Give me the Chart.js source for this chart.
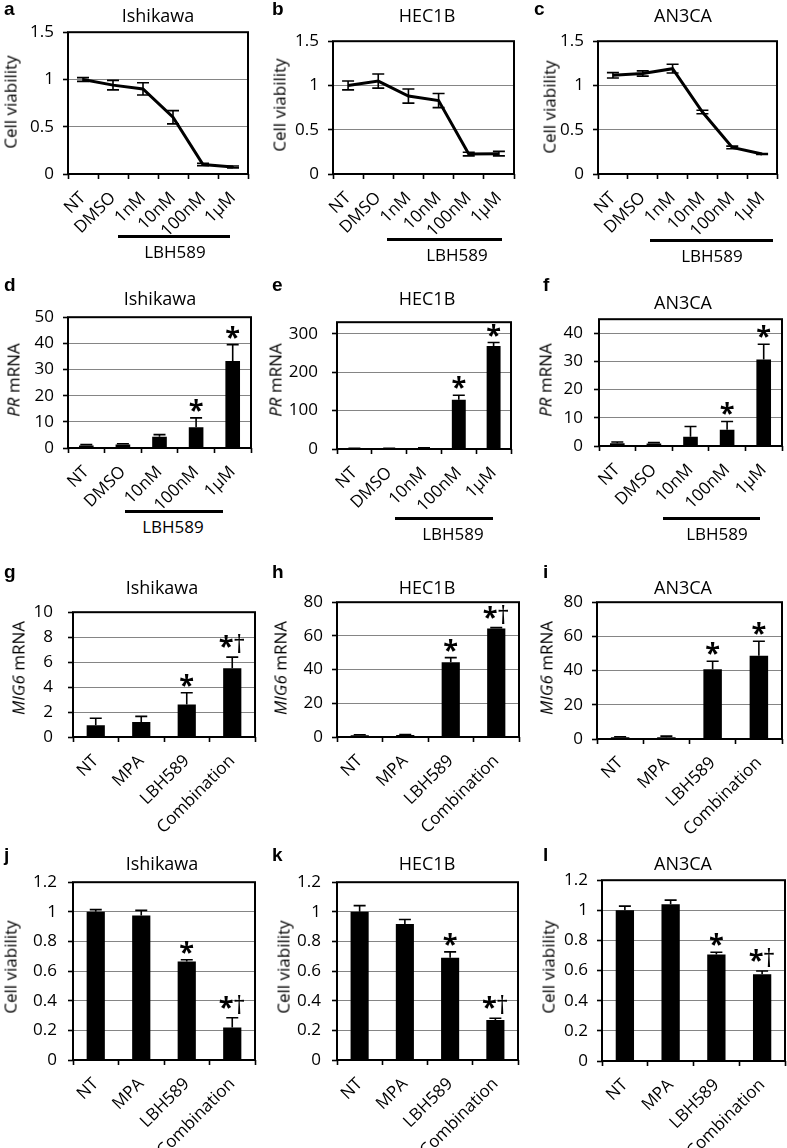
<!DOCTYPE html>
<html>
<head>
<meta charset="utf-8">
<script src="https://cdn.jsdelivr.net/npm/chart.js@4.4.0/dist/chart.umd.min.js"></script>
<style>
  body { margin: 0; background: #fff; width: 787px; height: 1148px; position: relative; overflow: hidden; font-family: "Open Sans", sans-serif; color: #000; }
  canvas { position: absolute; }
  .ttl { position: absolute; transform: translate(-50%, -50%); white-space: nowrap; font-size: 18px; }
  .let { position: absolute; transform: translate(0, -50%); font: bold 19px "Liberation Sans", Arial, sans-serif; }
  .yt { position: absolute; transform: translate(-50%, -50%) rotate(-90deg); white-space: nowrap; font-size: 17px; }
  .grp { position: absolute; transform: translate(-50%, -50%); white-space: nowrap; font-size: 17px; }
  .rule { position: absolute; height: 3px; background: #000; }
</style>
</head>
<body>
<script>
// --- a-c : cell viability, LBH589 dose ---
const doseLabels = ['NT', 'DMSO', '1nM', '10nM', '100nM', '1µM'];
const viabTicks = [0, 0.5, 1, 1.5];
const ishiViab = [1.00, 0.94, 0.90, 0.60, 0.10, 0.075];
const ishiViabErr = [0.02, 0.05, 0.065, 0.07, 0.012, 0.01];
const hecViab = [1.00, 1.05, 0.88, 0.83, 0.225, 0.23];
const hecViabErr = [0.05, 0.08, 0.08, 0.08, 0.02, 0.025];
const an3Viab = [1.115, 1.135, 1.19, 0.70, 0.30, 0.225];
const an3ViabErr = [0.03, 0.03, 0.05, 0.02, 0.015, 0.005];

// --- d-f : PR mRNA ---
const prLabels = ['NT', 'DMSO', '10nM', '100nM', '1µM'];
const prMarks = ['', '', '', '*', '*'];
const ishiPRTicks = [0, 10, 20, 30, 40, 50];
const ishiPR = [1.0, 1.3, 4.3, 7.9, 33.3];
const ishiPRErr = [0.3, 0.3, 0.8, 3.6, 6.2];
const hecPRTicks = [0, 100, 200, 300];
const hecPR = [1, 1, 2, 128, 268];
const hecPRErr = [0.5, 0.5, 0.8, 12, 9];
const an3PRTicks = [0, 10, 20, 30, 40];
const an3PR = [1.0, 0.9, 3.3, 5.8, 30.7];
const an3PRErr = [0.4, 0.3, 3.6, 2.9, 5.4];

// --- g-i : MIG6 mRNA ---
const combLabels = ['NT', 'MPA', 'LBH589', 'Combination'];
const ishiMIGTicks = [0, 2, 4, 6, 8, 10];
const ishiMIG = [0.95, 1.2, 2.6, 5.5];
const ishiMIGErr = [0.55, 0.45, 0.95, 0.9];
const ishiMIGMarks = ['', '', '*', '*†'];
const mig80Ticks = [0, 20, 40, 60, 80];
const hecMIG = [1.0, 1.2, 44.4, 64.4];
const hecMIGErr = [0.3, 0.3, 2.7, 0.5];
const hecMIGMarks = ['', '', '*', '*†'];
const an3MIG = [1.0, 1.0, 40.8, 48.7];
const an3MIGErr = [0.3, 0.7, 4.7, 8.5];
const an3MIGMarks = ['', '', '*', '*'];

// --- j-l : cell viability, combination ---
const combTicks = [0, 0.2, 0.4, 0.6, 0.8, 1, 1.2];
const combMarks = ['', '', '*', '*†'];
const ishiComb = [1.0, 0.975, 0.665, 0.22];
const ishiCombErr = [0.015, 0.035, 0.012, 0.065];
const hecComb = [1.0, 0.918, 0.69, 0.27];
const hecCombErr = [0.042, 0.03, 0.04, 0.012];
const an3Comb = [1.0, 1.04, 0.707, 0.575];
const an3CombErr = [0.028, 0.028, 0.015, 0.022];

// layout: plot rect [left, top, right, bottom] in page pixels, plus decorations
const VIAB = 'Cell viability';
const PR_T = '<i>PR</i> mRNA';
const MIG_T = '<i>MIG6</i> mRNA';
const panels = [
  { id: 'a', kind: 'line', labels: doseLabels, values: ishiViab, errs: ishiViabErr, ticks: viabTicks, max: 1.5,
    rect: [68, 27, 248, 174], xh: 62, pad: 14, title: 'Ishikawa', titleAt: [158, 15], letAt: [4, 9], yTitle: VIAB, yAt: [10, 102], lbh: [118, 230, 236, 175, 251] },
  { id: 'b', kind: 'line', labels: doseLabels, values: hecViab, errs: hecViabErr, ticks: viabTicks, max: 1.5,
    rect: [333, 36, 514, 174], xh: 62, pad: 14, title: 'HEC1B', titleAt: [427, 15], letAt: [272, 9], yTitle: VIAB, yAt: [279, 105], lbh: [387, 502, 239, 457, 254] },
  { id: 'c', kind: 'line', labels: doseLabels, values: an3Viab, errs: an3ViabErr, ticks: viabTicks, max: 1.5,
    rect: [598, 36, 777, 174], xh: 62, pad: 14, title: 'AN3CA', titleAt: [683, 15], letAt: [534, 9], yTitle: VIAB, yAt: [549, 107], lbh: [650, 773, 240, 712, 255] },
  { id: 'd', kind: 'bar', labels: prLabels, values: ishiPR, errs: ishiPRErr, marks: prMarks, ticks: ishiPRTicks, max: 50,
    rect: [68, 312, 251, 448], xh: 62, pad: 14, title: 'Ishikawa', titleAt: [160, 298], letAt: [4, 285], yTitle: PR_T, yAt: [13, 380], lbh: [125, 223, 511, 173, 526] },
  { id: 'e', kind: 'bar', labels: prLabels, values: hecPR, errs: hecPRErr, marks: prMarks, ticks: hecPRTicks, max: 330,
    rect: [337, 312, 511, 449], xh: 62, pad: 19, title: 'HEC1B', titleAt: [427, 298], letAt: [272, 285], yTitle: PR_T, yAt: [275, 380], lbh: [395, 493, 518, 453, 533] },
  { id: 'f', kind: 'bar', labels: prLabels, values: an3PR, errs: an3PRErr, marks: prMarks, ticks: an3PRTicks, max: 45,
    rect: [599, 312, 782, 446], xh: 62, pad: 16, title: 'AN3CA', titleAt: [683, 302], letAt: [543, 285], yTitle: PR_T, yAt: [545, 380], lbh: [663, 760, 518, 717, 533] },
  { id: 'g', kind: 'bar', labels: combLabels, values: ishiMIG, errs: ishiMIGErr, marks: ishiMIGMarks, ticks: ishiMIGTicks, max: 10,
    rect: [73, 601, 255, 737], xh: 100, pad: 20, title: 'Ishikawa', titleAt: [162, 587], letAt: [4, 572], yTitle: MIG_T, yAt: [18, 668] },
  { id: 'h', kind: 'bar', labels: combLabels, values: hecMIG, errs: hecMIGErr, marks: hecMIGMarks, ticks: mig80Ticks, max: 80,
    rect: [337, 597, 519, 737], xh: 100, pad: 14, title: 'HEC1B', titleAt: [427, 587], letAt: [272, 572], yTitle: MIG_T, yAt: [280, 668] },
  { id: 'i', kind: 'bar', labels: combLabels, values: an3MIG, errs: an3MIGErr, marks: an3MIGMarks, ticks: mig80Ticks, max: 80,
    rect: [597, 597, 782, 739], xh: 100, pad: 14, title: 'AN3CA', titleAt: [683, 587], letAt: [543, 572], yTitle: MIG_T, yAt: [546, 668] },
  { id: 'j', kind: 'bar', labels: combLabels, values: ishiComb, errs: ishiCombErr, marks: combMarks, ticks: combTicks, max: 1.2,
    rect: [73, 875, 255, 1060], xh: 100, pad: 16, title: 'Ishikawa', titleAt: [162, 863], letAt: [4, 855], yTitle: VIAB, yAt: [10, 967] },
  { id: 'k', kind: 'bar', labels: combLabels, values: hecComb, errs: hecCombErr, marks: combMarks, ticks: combTicks, max: 1.2,
    rect: [337, 875, 518, 1060], xh: 100, pad: 16, title: 'HEC1B', titleAt: [427, 863], letAt: [272, 855], yTitle: VIAB, yAt: [283, 967] },
  { id: 'l', kind: 'bar', labels: combLabels, values: an3Comb, errs: an3CombErr, marks: combMarks, ticks: combTicks, max: 1.2,
    rect: [602, 875, 785, 1061], xh: 100, pad: 14, title: 'AN3CA', titleAt: [683, 863], letAt: [543, 855], yTitle: VIAB, yAt: [548, 967] }
];

const YW = 80, PT = 14, PR = 16;
const FONT = '"Open Sans", sans-serif';
Chart.defaults.font.family = FONT;
Chart.defaults.color = '#000';

function place(cls, html, x, y) {
  const d = document.createElement('div');
  d.className = cls;
  d.innerHTML = html;
  d.style.left = x + 'px';
  d.style.top = y + 'px';
  document.body.appendChild(d);
  return d;
}

// glyph sized by its ink height, bottom of ink at `bottom`
function glyph(ctx, ch, cx, bottom, inkH, weight) {
  ctx.font = weight + ' 100px ' + FONT;
  let m = ctx.measureText(ch);
  const size = 100 * inkH / (m.actualBoundingBoxAscent + m.actualBoundingBoxDescent);
  ctx.font = weight + ' ' + size.toFixed(1) + 'px ' + FONT;
  m = ctx.measureText(ch);
  ctx.textAlign = 'center';
  ctx.textBaseline = 'alphabetic';
  ctx.fillText(ch, cx, bottom - m.actualBoundingBoxDescent);
}

function drawMark(ctx, mark, cx, errTop) {
  if (!mark) return;
  const dagger = mark.includes('†');
  const starBottom = errTop - (dagger ? 9 : 6);
  glyph(ctx, '*', dagger ? cx - 6 : cx, starBottom, 13, 'bold');
  if (dagger) glyph(ctx, '†', cx + 7, starBottom - 14 + 19, 19, 'normal');
}

function makeDecor(p) {
  return {
    id: 'decor' + p.id,
    afterDatasetsDraw(chart) {
      const { ctx, scales: { x, y } } = chart;
      ctx.save();
      ctx.strokeStyle = '#000';
      ctx.fillStyle = '#000';
      ctx.lineWidth = 1.6;
      const cap = 6;
      p.values.forEach((v, i) => {
        const e = p.errs[i];
        const cx = x.getPixelForValue(i);
        const top = y.getPixelForValue(v + e);
        const bot = p.kind === 'line' ? y.getPixelForValue(v - e) : y.getPixelForValue(v);
        ctx.beginPath();
        ctx.moveTo(cx, top); ctx.lineTo(cx, bot);
        ctx.moveTo(cx - cap, top); ctx.lineTo(cx + cap, top);
        if (p.kind === 'line') { ctx.moveTo(cx - cap, bot); ctx.lineTo(cx + cap, bot); }
        ctx.stroke();
        if (p.marks) drawMark(ctx, p.marks[i], cx, top);
      });
      ctx.restore();
    },
    afterDraw(chart) {
      const { ctx, chartArea: a } = chart;
      ctx.save();
      ctx.strokeStyle = '#000';
      ctx.lineWidth = 2;
      ctx.strokeRect(a.left, a.top, a.right - a.left, a.bottom - a.top);
      ctx.restore();
    }
  };
}

panels.forEach(p => {
  const [L, T, R, B] = p.rect;
  const cv = document.createElement('canvas');
  cv.width = YW + (R - L) + PR;
  cv.height = PT + (B - T) + p.xh;
  cv.style.left = (L - YW) + 'px';
  cv.style.top = (T - PT) + 'px';
  document.body.appendChild(cv);

  new Chart(cv, {
    type: p.kind,
    data: {
      labels: p.labels,
      datasets: [{
        data: p.values,
        backgroundColor: '#000',
        borderColor: '#000',
        borderWidth: p.kind === 'line' ? 3 : 0,
        pointRadius: 0,
        tension: 0,
        fill: false,
        barPercentage: 0.4,
        categoryPercentage: 1
      }]
    },
    options: {
      responsive: false,
      animation: false,
      devicePixelRatio: 1,
      layout: { padding: { top: PT, right: PR, left: 0, bottom: 0 } },
      plugins: { legend: { display: false }, tooltip: { enabled: false } },
      scales: {
        x: {
          offset: true,
          grid: { offset: true, drawOnChartArea: false, drawTicks: true, tickLength: 5, color: '#000', tickWidth: 1.6 },
          border: { display: false },
          ticks: { autoSkip: false, minRotation: 45, maxRotation: 45, padding: 9, font: { size: 17 } },
          afterFit: s => { s.height = p.xh; }
        },
        y: {
          min: 0,
          max: p.max,
          afterBuildTicks: s => { s.ticks = p.ticks.map(v => ({ value: v })); },
          grid: { color: '#858585', lineWidth: 1, tickLength: 5, tickColor: '#000', tickWidth: 1.6 },
          border: { display: false },
          ticks: { padding: p.pad - 5, font: { size: 17 }, callback: v => String(v) },
          afterFit: s => { s.width = YW; }
        }
      }
    },
    plugins: [makeDecor(p)]
  });

  // --- texts around the plot ---
  place('ttl', p.title, p.titleAt[0], p.titleAt[1]);
  place('let', p.id, p.letAt[0], p.letAt[1]);
  place('yt', p.yTitle, p.yAt[0], p.yAt[1]);
  if (p.lbh) {
    const [x1, x2, ly, tx, ty] = p.lbh;
    const r = place('rule', '', x1, ly - 1.5);
    r.style.width = (x2 - x1) + 'px';
    place('grp', 'LBH589', tx, ty);
  }
});
</script>
</body>
</html>
